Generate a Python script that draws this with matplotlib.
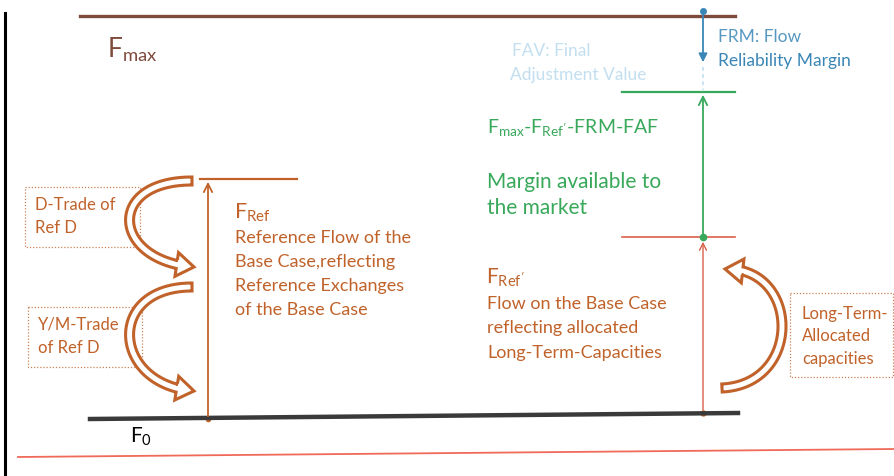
"""
Flow-based capacity diagram: Fmax, FRM, FAV, FRef, FRef' and F0 levels.
Drawn in pixel-like coordinates (x to the right, y downward).
"""
import matplotlib

matplotlib.use("Agg")
import matplotlib.pyplot as plt
import numpy as np
from matplotlib.patches import Polygon, Rectangle

plt.rcParams["font.family"] = ["Lato", "DejaVu Sans"]
plt.rcParams["mathtext.fontset"] = "custom"
plt.rcParams["mathtext.rm"] = "Lato"
plt.rcParams["mathtext.it"] = "Lato"

# ---------------------------------------------------------------------------
# Flow levels (y, pixel rows from the top) and their horizontal extents
# ---------------------------------------------------------------------------
Y_FMAX = 17
Y_FAV = 93
Y_FREF_P = 238
Y_FREF = 180
Y_F0 = (420, 414)          # scanned line is slightly tilted
Y_BOTTOM = (458, 450)

X_FMAX = (80, 735)
X_RIGHT_LEVEL = (622, 735)
X_FREF = (200, 297)
X_F0 = (90, 738)
X_BOTTOM = (18, 895)
X_RIGHT_AXIS = 703
X_LEFT_AXIS = 208

BROWN = "#7d4a3c"
ORANGE = "#c0622a"
BLUE = "#3a86b6"
LIGHT_BLUE = "#c2dff0"
GREEN = "#38a85a"
RED = "#d9604a"

FREF_LINES = ["Reference Flow of the", "Base Case,reflecting",
              "Reference Exchanges", "of the Base Case"]
FREFP_LINES = ["Flow on the Base Case", "reflecting allocated",
               "Long-Term-Capacities"]
LT_LINES = ["Long-Term-", "Allocated", "capacities"]


def curved_arrow(ax, pts, color, tail=4.0, head_w=12.0, head_l=18.0):
    """Hollow block arrow along a cubic Bezier (data units == pixels)."""
    p = np.array(pts, dtype=float)
    t = np.linspace(0, 1, 200)[:, None]
    c = ((1 - t) ** 3 * p[0] + 3 * (1 - t) ** 2 * t * p[1]
         + 3 * (1 - t) * t ** 2 * p[2] + t ** 3 * p[3])
    seg = np.hypot(*np.diff(c, axis=0).T)
    s = np.concatenate([[0], np.cumsum(seg)])
    base_idx = np.searchsorted(s, s[-1] - head_l)
    body = c[:base_idx + 1]
    d = np.gradient(body, axis=0)
    d /= np.hypot(d[:, 0], d[:, 1])[:, None]
    n = np.stack([-d[:, 1], d[:, 0]], axis=1)
    left = body + n * tail
    right = body - n * tail
    tip = c[-1]
    base = body[-1]
    u = (tip - base) / np.hypot(*(tip - base))
    nb = np.array([-u[1], u[0]])
    outline = np.vstack([left, base + nb * tail, base + nb * head_w, tip,
                         base - nb * head_w, base - nb * tail, right[::-1]])
    ax.add_patch(Polygon(outline, closed=True, fc="white", ec=color, lw=2.2,
                         joinstyle="miter"))


def dotted_box(ax, x, y, w, h, color):
    ax.add_patch(Rectangle((x, y), w, h, fill=False, ec=color,
                           ls=(0, (1, 1.5)), lw=0.9, alpha=0.8))


fig = plt.figure(figsize=(8.95, 4.77), dpi=100)
ax = fig.add_axes([0, 0, 1, 1])
ax.set_xlim(0, 895)
ax.set_ylim(477, 0)
ax.axis("off")

# left frame edge and bottom red line
ax.plot([5, 5], [14, 477], color="black", lw=2.2)
ax.plot(X_BOTTOM, Y_BOTTOM, color="#ef6a58", lw=1.3)

# Fmax level
ax.plot(X_FMAX, [Y_FMAX, Y_FMAX], color=BROWN, lw=2.4)
ax.text(107, 50, r"F$_{\mathrm{max}}$", color=BROWN, fontsize=19,
        va="center")

# FRM arrow (blue) and FAV dotted continuation
ax.plot(X_RIGHT_AXIS, Y_FMAX - 5, "o", color=BLUE, ms=4)
ax.annotate("", xy=(X_RIGHT_AXIS, 66), xytext=(X_RIGHT_AXIS, Y_FMAX - 5),
            arrowprops=dict(arrowstyle="-|>,head_width=0.25,head_length=0.5",
                            color=BLUE, lw=1.3))
ax.plot([X_RIGHT_AXIS, X_RIGHT_AXIS], [68, Y_FAV - 2], color=LIGHT_BLUE,
        lw=1.3, ls=(0, (2, 2)))
ax.text(718, 37, "FRM: Flow", color=BLUE, fontsize=12.5, va="center",
        alpha=0.85)
ax.text(718, 61, "Reliability Margin", color=BLUE, fontsize=12.5,
        va="center")
ax.text(512, 51, "FAV: Final", color=LIGHT_BLUE, fontsize=12.5,
        va="center")
ax.text(510, 75, "Adjustment Value", color=LIGHT_BLUE, fontsize=12.5,
        va="center")

# Margin available to the market (green)
ax.plot(X_RIGHT_LEVEL, [Y_FAV, Y_FAV], color=GREEN, lw=1.6)
ax.annotate("", xy=(X_RIGHT_AXIS, Y_FAV), xytext=(X_RIGHT_AXIS, Y_FREF_P),
            arrowprops=dict(arrowstyle="->,head_width=0.3,head_length=0.6",
                            color=GREEN, lw=1.3))
ax.text(487, 127, r"F$_{\mathrm{max}}$-F$_{\mathrm{Ref'}}$-FRM-FAF",
        color=GREEN, fontsize=14, va="center")
ax.text(487, 182, "Margin available to", color=GREEN, fontsize=15,
        va="center")
ax.text(487, 208, "the market", color=GREEN, fontsize=15, va="center")

# FRef' level (right)
ax.plot(X_RIGHT_LEVEL, [Y_FREF_P, Y_FREF_P], color=RED, lw=1.2)
ax.annotate("", xy=(X_RIGHT_AXIS, Y_FREF_P + 2),
            xytext=(X_RIGHT_AXIS, Y_F0[1]),
            arrowprops=dict(arrowstyle="->,head_width=0.25,head_length=0.5",
                            color=RED, lw=1.0))
ax.plot(X_RIGHT_AXIS, Y_FREF_P, "o", color=GREEN, ms=4.5)
ax.plot(X_RIGHT_AXIS, Y_F0[1], "o", color=ORANGE, ms=3.5)
ax.text(486, 278, r"F$_{\mathrm{Ref'}}$", color=ORANGE, fontsize=15,
        va="center")
for i, line in enumerate(FREFP_LINES):
    ax.text(487, 304 + i * 24.5, line, color=ORANGE, fontsize=13,
            va="center")

curved_arrow(ax, [(722, 389), (803, 385), (800, 268), (725, 270)], ORANGE)
dotted_box(ax, 790, 294, 103, 84, ORANGE)
for i, line in enumerate(LT_LINES):
    ax.text(802, 314 + i * 22.5, line, color=ORANGE, fontsize=12,
            va="center")

# FRef level (left)
ax.plot(X_FREF, [Y_FREF, Y_FREF], color=ORANGE, lw=1.6)
ax.annotate("", xy=(X_LEFT_AXIS, Y_FREF), xytext=(X_LEFT_AXIS, Y_F0[0]),
            arrowprops=dict(arrowstyle="->,head_width=0.3,head_length=0.6",
                            color=ORANGE, lw=1.3))
ax.plot(X_LEFT_AXIS, Y_F0[0], "o", color=ORANGE, ms=3)
ax.text(234, 213, r"F$_{\mathrm{Ref}}$", color=ORANGE, fontsize=15.5,
        va="center")
for i, line in enumerate(FREF_LINES):
    ax.text(235, 238 + i * 24, line, color=ORANGE, fontsize=13,
            va="center")

dotted_box(ax, 25, 188, 115, 60, ORANGE)
ax.text(35, 205, "D-Trade of", color=ORANGE, fontsize=12, va="center")
ax.text(35, 228, "Ref D", color=ORANGE, fontsize=12, va="center")
dotted_box(ax, 28, 308, 114, 60, ORANGE)
ax.text(38, 325, "Y/M-Trade", color=ORANGE, fontsize=12, va="center")
ax.text(38, 348, "of Ref D", color=ORANGE, fontsize=12, va="center")

curved_arrow(ax, [(192, 182), (105, 182), (112, 262), (194, 268)], ORANGE)
curved_arrow(ax, [(192, 288), (105, 288), (112, 386), (194, 392)], ORANGE)

# F0 level
ax.plot(X_F0, Y_F0, color="#3a3a3a", lw=3.2)
ax.text(130, 437, r"F$_{\mathrm{0}}$", color="black", fontsize=15,
        va="center")

fig.savefig("out.png", dpi=100)
plt.close(fig)
